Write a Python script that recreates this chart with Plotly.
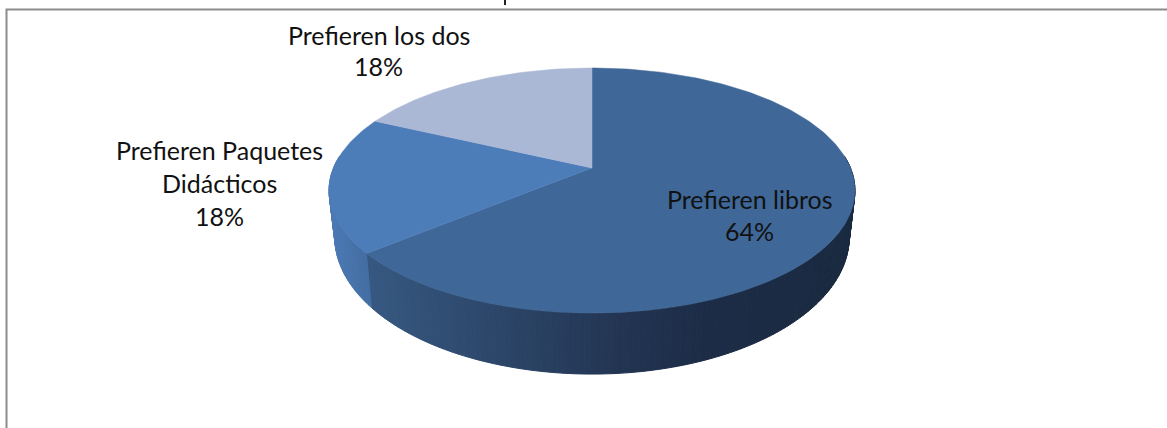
import math
import plotly.graph_objects as go

categories = ["Prefieren libros", "Prefieren Paquetes Didácticos", "Prefieren los dos"]
values = [64, 18, 18]
label_lines = [["Prefieren libros"], ["Prefieren Paquetes", "Didácticos"], ["Prefieren los dos"]]
colors_top = ["#3f6797", "#4d7db9", "#aab8d6"]

W, H = 1167, 428
CX, CY = 592, 168
A, B, K = 258.5, 118.4, 0.1837
XS, D0, DE = 0.978, 44, 13.9


def top(theta):
    u, v = math.sin(theta), -math.cos(theta)
    den = 1 - K * v
    return CX + A * u / den, CY + B * v / den


def bottom(theta):
    u, v = math.sin(theta), -math.cos(theta)
    den = 1 - K * v
    t = v / den
    return CX + XS * A * u / den, CY + B * t + D0 + DE * t


def mix(stops, x):
    if x <= stops[0][0]:
        return stops[0][1]
    for (x0, c0), (x1, c1) in zip(stops, stops[1:]):
        if x <= x1:
            f = (x - x0) / (x1 - x0)
            return tuple(c0[i] + (c1[i] - c0[i]) * f for i in range(3))
    return stops[-1][1]


wall_stops = [
    [(372, (54, 88, 128)), (620, (35, 53, 83)), (700, (29, 45, 72)), (850, (26, 42, 64))],
    [(330, (76, 122, 180)), (372, (66, 108, 160))],
    [(330, (150, 165, 200)), (590, (150, 165, 200))],
]

fig = go.Figure()
total = sum(values)
angles = [0]
for val in values:
    angles.append(angles[-1] + val / total * 2 * math.pi)

# side wall, drawn as narrow shaded strips
for i in range(2):
    a0, a1 = angles[i], angles[i + 1]
    n = int((a1 - a0) / (2 * math.pi) * 360)
    for j in range(n):
        t0 = a0 + (a1 - a0) * j / n
        t1 = a0 + (a1 - a0) * (j + 1) / n
        if -math.cos(t1) < -0.1 and -math.cos(t0) < -0.1:
            continue
        p0, p1, q1, q0 = top(t0), top(t1), bottom(t1), bottom(t0)
        c = mix(wall_stops[i], (p0[0] + p1[0]) / 2)
        col = "rgb(%d,%d,%d)" % tuple(int(x) for x in c)
        fig.add_trace(go.Scatter(
            x=[p0[0], p1[0], q1[0], q0[0], p0[0]],
            y=[p0[1], p1[1], q1[1], q0[1], p0[1]],
            mode="lines", fill="toself", fillcolor=col,
            line=dict(color=col, width=1), hoverinfo="skip", showlegend=False))

# top face slices
for i, name in enumerate(categories):
    a0, a1 = angles[i], angles[i + 1]
    n = max(2, int((a1 - a0) / (2 * math.pi) * 360))
    pts = [top(a0 + (a1 - a0) * j / n) for j in range(n + 1)]
    xs = [CX] + [p[0] for p in pts] + [CX]
    ys = [CY] + [p[1] for p in pts] + [CY]
    fig.add_trace(go.Scatter(
        x=xs, y=ys, mode="lines", fill="toself", fillcolor=colors_top[i],
        line=dict(color=colors_top[i], width=0.5), name=name,
        hoverinfo="name", showlegend=False))

label_pos = [(749.5, 199, 32), (219.5, 149.5, 33), (378.5, 35, 31)]
for i, lines in enumerate(label_lines):
    x, y, step = label_pos[i]
    for j, text in enumerate(lines + [f"{values[i]}%"]):
        fig.add_annotation(x=x, y=y + j * step, xref="x", yref="y", text=text,
                           showarrow=False, xanchor="center", yanchor="middle",
                           font=dict(family="Lato", size=25, color="#111111"))

# cut-off chart title: only one letter's descender shows at the top edge
fig.add_shape(type="line", x0=505, x1=505, y0=0, y1=5, xref="x", yref="y",
              line=dict(color="#222222", width=2))

# chart frame: left and top edges only, the rest is cropped
fig.add_shape(type="path", path=f"M 6.5 {H} L 6.5 9.5 L {W} 9.5", xref="x", yref="y",
              line=dict(color="#8c8c8c", width=2))

fig.update_layout(
    width=W, height=H, margin=dict(l=0, r=0, t=0, b=0),
    paper_bgcolor="white", plot_bgcolor="white",
    xaxis=dict(range=[0, W], visible=False, fixedrange=True),
    yaxis=dict(range=[H, 0], visible=False, fixedrange=True),
)
fig.write_html("out.html", config=dict(displayModeBar=False),
               post_script="document.body.style.margin='0';document.documentElement.style.overflow='hidden';")
